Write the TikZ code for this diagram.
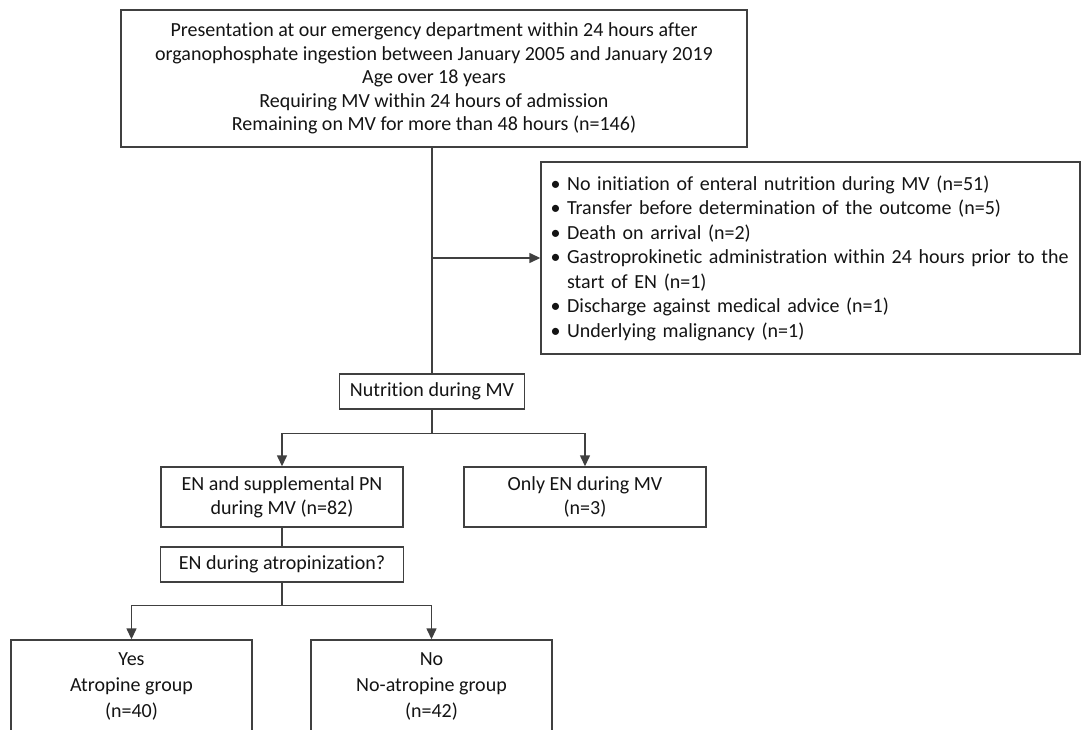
\documentclass[tikz,border=0pt]{standalone}
\usepackage{fontspec}
\setmainfont{Carlito}[RawFeature=-liga]
\usetikzlibrary{arrows.meta}
\newcommand{\itm}{\textbullet\ }
\begin{document}
\begin{tikzpicture}[x=1pt, y=-1pt,
  box/.style={draw=black!75, line width=1.4pt, fill=white, inner sep=0pt,
    align=center, text=black!92, font=\fontsize{20}{23.6}\selectfont},
  conn/.style={draw=black!75, line width=1.4pt},
  arr/.style={conn, -{Triangle[length=11pt, width=10pt]}}]
  \clip (0,0) rectangle (1082,730);
  \fill[white] (0,0) rectangle (1082,730);

  % Criterios de inclusao
  \node[box, minimum width=626, minimum height=137] (incl) at (434,78.5)
    {Presentation at our emergency department within 24 hours after\\
     organophosphate ingestion between January 2005 and January 2019\\
     Age over 18 years\\
     Requiring MV within 24 hours of admission\\
     Remaining on MV for more than 48 hours (n=146)};

  % Exclusoes
  \node[box, align=left, text width=520, inner xsep=9.5, minimum height=192,
    font=\fontsize{20}{24.5}\selectfont] (excl) at (810.5,258)
    {\itm No initiation of enteral nutrition during MV (n=51)\\
     \itm Transfer before determination of the outcome (n=5)\\
     \itm Death on arrival (n=2)\\
     \itm Gastroprokinetic administration within 24 hours prior to the\\
     \hphantom{\itm}start of EN (n=1)\\
     \itm Discharge against medical advice (n=1)\\
     \itm Underlying malignancy (n=1)};

  % Nutricao
  \node[box, minimum width=185, minimum height=35] (nutr) at (432,391.5) {Nutrition during MV};
  \node[box, minimum width=242, minimum height=60] (enpn) at (282,497) {EN and supplemental PN\\during MV (n=82)};
  \node[box, minimum width=242, minimum height=60] (only) at (585,497) {Only EN during MV\\(n=3)};
  \node[box, minimum width=243, minimum height=35] (atrop) at (282,564.5) {EN during atropinization?};

  % Grupos
  \node[box, minimum width=241, minimum height=92, font=\fontsize{20}{26}\selectfont] (yes) at (131.5,686) {Yes\\Atropine group\\(n=40)};
  \node[box, minimum width=241, minimum height=92, font=\fontsize{20}{26}\selectfont] (no) at (431.5,686) {No\\No-atropine group\\(n=42)};

  % Ligacoes
  \draw[conn] (nutr.north |- incl.south) -- (nutr.north);
  \draw[arr] (nutr.north |- excl.west) -- (excl.west);
  \draw[arr] (nutr.south) -- ++(0,23.5) -| (enpn.north);
  \draw[arr] (nutr.south) -- ++(0,23.5) -| (only.north);
  \draw[conn] (enpn.south) -- (atrop.north);
  \draw[arr] (atrop.south) -- ++(0,22.5) -| (yes.north);
  \draw[arr] (atrop.south) -- ++(0,22.5) -| (no.north);
\end{tikzpicture}
\end{document}
